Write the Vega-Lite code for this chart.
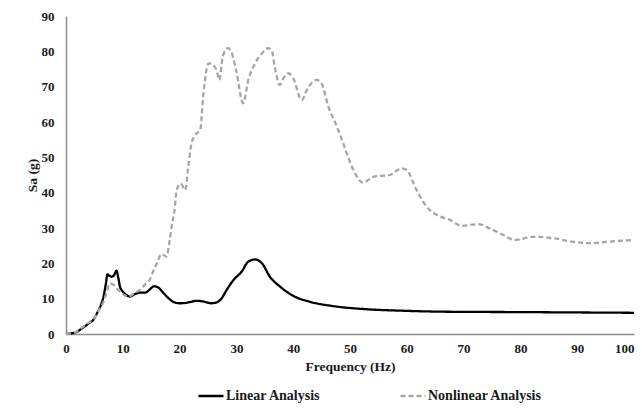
{
  "$schema": "https://vega.github.io/schema/vega-lite/v6.json",
  "width": 568,
  "height": 318,
  "autosize": {"type": "none"},
  "padding": {"left": 66, "top": 16, "right": 8, "bottom": 78},
  "background": "#ffffff",
  "config": {
    "view": {"stroke": null},
    "font": "Liberation Serif",
    "axis": {
      "labelFont": "Liberation Serif",
      "labelFontWeight": "bold",
      "labelFontSize": 13,
      "labelColor": "#1a1a1a",
      "titleFont": "Liberation Serif",
      "titleFontWeight": "bold",
      "titleFontSize": 13.5,
      "titleColor": "#1a1a1a",
      "grid": false,
      "ticks": false,
      "domainColor": "#8c8c8c",
      "domainWidth": 1.5
    },
    "legend": {
      "labelFont": "Liberation Serif",
      "labelFontWeight": "bold",
      "labelFontSize": 14,
      "labelColor": "#1a1a1a"
    }
  },
  "data": {
    "values": [
      {"series": "Linear Analysis", "f": 0, "sa": 0},
      {"series": "Linear Analysis", "f": 1, "sa": 0.2},
      {"series": "Linear Analysis", "f": 2, "sa": 0.7},
      {"series": "Linear Analysis", "f": 3, "sa": 1.8},
      {"series": "Linear Analysis", "f": 4, "sa": 3},
      {"series": "Linear Analysis", "f": 4.8, "sa": 4},
      {"series": "Linear Analysis", "f": 5.5, "sa": 6},
      {"series": "Linear Analysis", "f": 6.1, "sa": 8},
      {"series": "Linear Analysis", "f": 6.6, "sa": 10.6},
      {"series": "Linear Analysis", "f": 7.0, "sa": 14},
      {"series": "Linear Analysis", "f": 7.3, "sa": 16.9},
      {"series": "Linear Analysis", "f": 7.6, "sa": 16.5},
      {"series": "Linear Analysis", "f": 8.0, "sa": 16.2},
      {"series": "Linear Analysis", "f": 8.4, "sa": 16.5},
      {"series": "Linear Analysis", "f": 8.9, "sa": 17.9},
      {"series": "Linear Analysis", "f": 9.2, "sa": 16},
      {"series": "Linear Analysis", "f": 9.5, "sa": 13.4},
      {"series": "Linear Analysis", "f": 10, "sa": 12},
      {"series": "Linear Analysis", "f": 10.5, "sa": 11.2},
      {"series": "Linear Analysis", "f": 11.3, "sa": 10.6},
      {"series": "Linear Analysis", "f": 12, "sa": 11.2},
      {"series": "Linear Analysis", "f": 13, "sa": 11.7},
      {"series": "Linear Analysis", "f": 14, "sa": 11.7},
      {"series": "Linear Analysis", "f": 14.6, "sa": 12.4},
      {"series": "Linear Analysis", "f": 15.5, "sa": 13.5},
      {"series": "Linear Analysis", "f": 16.2, "sa": 13.2},
      {"series": "Linear Analysis", "f": 17.1, "sa": 11.7},
      {"series": "Linear Analysis", "f": 18, "sa": 10.2},
      {"series": "Linear Analysis", "f": 18.9, "sa": 9.1},
      {"series": "Linear Analysis", "f": 20, "sa": 8.7},
      {"series": "Linear Analysis", "f": 21, "sa": 8.8},
      {"series": "Linear Analysis", "f": 22, "sa": 9.1},
      {"series": "Linear Analysis", "f": 23, "sa": 9.4},
      {"series": "Linear Analysis", "f": 24.2, "sa": 9.2},
      {"series": "Linear Analysis", "f": 25.6, "sa": 8.7},
      {"series": "Linear Analysis", "f": 26.6, "sa": 9.0},
      {"series": "Linear Analysis", "f": 27.4, "sa": 10.1},
      {"series": "Linear Analysis", "f": 28.3, "sa": 12.5},
      {"series": "Linear Analysis", "f": 29.5, "sa": 15.3},
      {"series": "Linear Analysis", "f": 30.9, "sa": 17.6},
      {"series": "Linear Analysis", "f": 32.1, "sa": 20.5},
      {"series": "Linear Analysis", "f": 33.3, "sa": 21.1},
      {"series": "Linear Analysis", "f": 34.5, "sa": 20},
      {"series": "Linear Analysis", "f": 35.9, "sa": 16.2},
      {"series": "Linear Analysis", "f": 37.7, "sa": 13.4},
      {"series": "Linear Analysis", "f": 40, "sa": 10.8},
      {"series": "Linear Analysis", "f": 43, "sa": 9.1},
      {"series": "Linear Analysis", "f": 47, "sa": 7.9},
      {"series": "Linear Analysis", "f": 53, "sa": 7.0},
      {"series": "Linear Analysis", "f": 59, "sa": 6.6},
      {"series": "Linear Analysis", "f": 67, "sa": 6.3},
      {"series": "Linear Analysis", "f": 80, "sa": 6.2},
      {"series": "Linear Analysis", "f": 90, "sa": 6.1},
      {"series": "Linear Analysis", "f": 100, "sa": 6.0},
      {"series": "Nonlinear Analysis", "f": 0, "sa": 0},
      {"series": "Nonlinear Analysis", "f": 1, "sa": 0.2},
      {"series": "Nonlinear Analysis", "f": 2, "sa": 0.8},
      {"series": "Nonlinear Analysis", "f": 3, "sa": 2},
      {"series": "Nonlinear Analysis", "f": 4, "sa": 3.2},
      {"series": "Nonlinear Analysis", "f": 4.8, "sa": 4.2},
      {"series": "Nonlinear Analysis", "f": 5.7, "sa": 6.5},
      {"series": "Nonlinear Analysis", "f": 6.6, "sa": 9.1},
      {"series": "Nonlinear Analysis", "f": 7.2, "sa": 12},
      {"series": "Nonlinear Analysis", "f": 7.7, "sa": 14.3},
      {"series": "Nonlinear Analysis", "f": 8.3, "sa": 14},
      {"series": "Nonlinear Analysis", "f": 9.2, "sa": 12.5},
      {"series": "Nonlinear Analysis", "f": 10, "sa": 11.3},
      {"series": "Nonlinear Analysis", "f": 11, "sa": 10.6},
      {"series": "Nonlinear Analysis", "f": 12, "sa": 11.5},
      {"series": "Nonlinear Analysis", "f": 13, "sa": 12.5},
      {"series": "Nonlinear Analysis", "f": 14, "sa": 14.2},
      {"series": "Nonlinear Analysis", "f": 14.8, "sa": 15.5},
      {"series": "Nonlinear Analysis", "f": 15.4, "sa": 18},
      {"series": "Nonlinear Analysis", "f": 16, "sa": 20},
      {"series": "Nonlinear Analysis", "f": 16.8, "sa": 22.6},
      {"series": "Nonlinear Analysis", "f": 17.7, "sa": 21.9},
      {"series": "Nonlinear Analysis", "f": 18.2, "sa": 26},
      {"series": "Nonlinear Analysis", "f": 18.6, "sa": 30.4},
      {"series": "Nonlinear Analysis", "f": 19.1, "sa": 35},
      {"series": "Nonlinear Analysis", "f": 19.5, "sa": 40.8},
      {"series": "Nonlinear Analysis", "f": 20.2, "sa": 42.6},
      {"series": "Nonlinear Analysis", "f": 21, "sa": 40.8},
      {"series": "Nonlinear Analysis", "f": 21.5, "sa": 47},
      {"series": "Nonlinear Analysis", "f": 22.1, "sa": 54},
      {"series": "Nonlinear Analysis", "f": 23, "sa": 56.8},
      {"series": "Nonlinear Analysis", "f": 23.6, "sa": 57.5},
      {"series": "Nonlinear Analysis", "f": 24.2, "sa": 68},
      {"series": "Nonlinear Analysis", "f": 25.1, "sa": 76.6},
      {"series": "Nonlinear Analysis", "f": 25.9, "sa": 76.1},
      {"series": "Nonlinear Analysis", "f": 26.5, "sa": 74.7},
      {"series": "Nonlinear Analysis", "f": 27, "sa": 71.9},
      {"series": "Nonlinear Analysis", "f": 27.6, "sa": 78.5},
      {"series": "Nonlinear Analysis", "f": 28.5, "sa": 80.9},
      {"series": "Nonlinear Analysis", "f": 29.2, "sa": 79.4},
      {"series": "Nonlinear Analysis", "f": 30, "sa": 74.3},
      {"series": "Nonlinear Analysis", "f": 31.2, "sa": 65.3},
      {"series": "Nonlinear Analysis", "f": 32.1, "sa": 71.9},
      {"series": "Nonlinear Analysis", "f": 33.3, "sa": 76.6},
      {"series": "Nonlinear Analysis", "f": 34.5, "sa": 79.4},
      {"series": "Nonlinear Analysis", "f": 35.6, "sa": 80.9},
      {"series": "Nonlinear Analysis", "f": 36.2, "sa": 80.4},
      {"series": "Nonlinear Analysis", "f": 36.8, "sa": 75.2},
      {"series": "Nonlinear Analysis", "f": 37.6, "sa": 70.5},
      {"series": "Nonlinear Analysis", "f": 38.3, "sa": 72.4},
      {"series": "Nonlinear Analysis", "f": 39.1, "sa": 73.8},
      {"series": "Nonlinear Analysis", "f": 40, "sa": 72.4},
      {"series": "Nonlinear Analysis", "f": 41.5, "sa": 66.2},
      {"series": "Nonlinear Analysis", "f": 42.4, "sa": 69.1},
      {"series": "Nonlinear Analysis", "f": 44.1, "sa": 71.9},
      {"series": "Nonlinear Analysis", "f": 45, "sa": 70.9},
      {"series": "Nonlinear Analysis", "f": 46.2, "sa": 64.3},
      {"series": "Nonlinear Analysis", "f": 47.7, "sa": 58.7},
      {"series": "Nonlinear Analysis", "f": 48.8, "sa": 54},
      {"series": "Nonlinear Analysis", "f": 50.6, "sa": 46.4},
      {"series": "Nonlinear Analysis", "f": 52.3, "sa": 42.8},
      {"series": "Nonlinear Analysis", "f": 54.1, "sa": 44.5},
      {"series": "Nonlinear Analysis", "f": 57, "sa": 45},
      {"series": "Nonlinear Analysis", "f": 59.1, "sa": 46.9},
      {"series": "Nonlinear Analysis", "f": 60, "sa": 46.4},
      {"series": "Nonlinear Analysis", "f": 61.7, "sa": 40.8},
      {"series": "Nonlinear Analysis", "f": 63.5, "sa": 36},
      {"series": "Nonlinear Analysis", "f": 65.3, "sa": 33.7},
      {"series": "Nonlinear Analysis", "f": 67.6, "sa": 32.3},
      {"series": "Nonlinear Analysis", "f": 69.7, "sa": 30.6},
      {"series": "Nonlinear Analysis", "f": 72.6, "sa": 31.1},
      {"series": "Nonlinear Analysis", "f": 74.6, "sa": 29.9},
      {"series": "Nonlinear Analysis", "f": 77, "sa": 28},
      {"series": "Nonlinear Analysis", "f": 79, "sa": 26.6},
      {"series": "Nonlinear Analysis", "f": 82.3, "sa": 27.5},
      {"series": "Nonlinear Analysis", "f": 85.8, "sa": 27.1},
      {"series": "Nonlinear Analysis", "f": 89.3, "sa": 26.1},
      {"series": "Nonlinear Analysis", "f": 92.3, "sa": 25.7},
      {"series": "Nonlinear Analysis", "f": 95.2, "sa": 26.1},
      {"series": "Nonlinear Analysis", "f": 100, "sa": 26.6}
    ]
  },
  "mark": {"type": "line", "interpolate": "monotone", "clip": false},
  "encoding": {
    "x": {
      "field": "f",
      "type": "quantitative",
      "title": "Frequency (Hz)",
      "scale": {"domain": [0, 100], "nice": false},
      "axis": {
        "values": [0, 10, 20, 30, 40, 50, 60, 70, 80, 90, 100],
        "labelPadding": 8,
        "titlePadding": 4,
        "labelFlush": false,
        "labelOverlap": false,
        "labelAlign": {"condition": {"test": "datum.value === 100", "value": "right"}, "value": "center"}
      }
    },
    "y": {
      "field": "sa",
      "type": "quantitative",
      "title": "Sa (g)",
      "scale": {"domain": [0, 90], "nice": false},
      "axis": {"values": [0, 10, 20, 30, 40, 50, 60, 70, 80, 90], "labelPadding": 12, "titlePadding": 2, "labelFlush": false}
    },
    "color": {
      "field": "series",
      "type": "nominal",
      "scale": {"domain": ["Linear Analysis", "Nonlinear Analysis"], "range": ["#000000", "#a6a6a6"]},
      "legend": {
        "title": null,
        "orient": "none",
        "legendX": 131,
        "legendY": 366,
        "direction": "horizontal",
        "symbolType": "stroke",
        "symbolSize": 625,
        "symbolStrokeWidth": 2.3,
        "labelOffset": 1,
        "columnPadding": 74
      }
    },
    "strokeDash": {
      "field": "series",
      "type": "nominal",
      "scale": {"domain": ["Linear Analysis", "Nonlinear Analysis"], "range": [[1, 0], [5, 3]]},
      "legend": {
        "title": null,
        "orient": "none",
        "legendX": 131,
        "legendY": 366,
        "direction": "horizontal",
        "symbolType": "stroke",
        "symbolSize": 625,
        "symbolStrokeWidth": 2.3,
        "labelOffset": 1,
        "columnPadding": 74
      }
    },
    "strokeWidth": {"value": 2.3}
  }
}
